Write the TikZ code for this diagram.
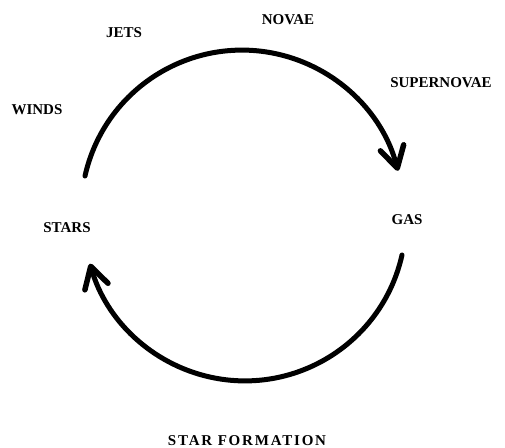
\documentclass[tikz,border=0pt]{standalone}
\usepackage{fontspec}
\setmainfont{Liberation Serif}
\usetikzlibrary{arrows.meta}

\begin{document}
\begin{tikzpicture}[x=1pt,y=1pt,>={Straight Barb[length=21pt,width=24pt,round,line width=5.5pt]},
  lbl/.style={font=\bfseries\fontsize{15}{15}\selectfont,anchor=base,inner sep=0pt},
  cyc/.style={->,line width=5pt,line cap=round}]
\useasboundingbox (0,0) rectangle (505,447);
\node[lbl] (novae) at (288,422) {NOVAE};
\node[lbl] (jets) at (124,409) {JETS};
\node[lbl] (supernovae) at (441,359) {SUPERNOVAE};
\node[lbl] (winds) at (37,332) {WINDS};
\node[lbl] (stars) at (67,214) {STARS};
\node[lbl] (gas) at (407,222) {GAS};
\node[lbl] (starform) at (247,2) {\addfontfeatures{LetterSpace=12}STAR FORMATION};
\coordinate (outflow) at (85,271);
\coordinate (collapse) at (402,192);
\draw[cyc] (outflow) arc[start angle=167.4,end angle=14.5,radius=161];
\draw[cyc] (collapse) arc[start angle=-12.6,end angle=-164.2,radius=161];
\end{tikzpicture}
\end{document}
